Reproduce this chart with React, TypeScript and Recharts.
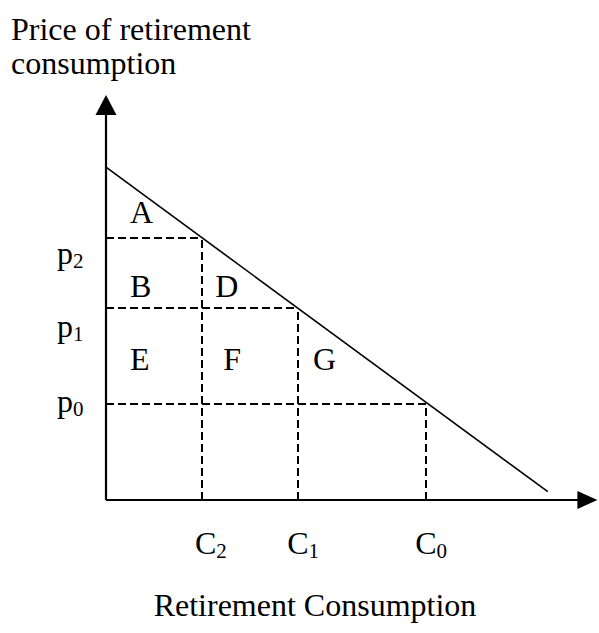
import { LineChart, Line, XAxis, YAxis, ReferenceLine, ReferenceDot, Customized } from "recharts";

// consumption levels C2, C1, C0 and matching prices p2, p1, p0
const quantities = [3, 6, 10];
const prices = [8.2, 6, 3];
const subscripts = ["2", "1", "0"];

// demand curve end points
const demandQ = [0, 13.8];
const demandP = [10.4, 0.26];

const areaNames = ["A", "B", "D", "E", "F", "G"];

const demand = demandQ.map((q, i) => ({ q, p: demandP[i] }));

// where the annotations sit (baseline, data units)
const areaSpots = [
    { x: 0.75, y: 8.66 },
    { x: 0.75, y: 6.34 },
    { x: 3.41, y: 6.34 },
    { x: 0.75, y: 4.06 },
    { x: 3.66, y: 4.06 },
    { x: 6.47, y: 4.06 },
];
const priceSpots = [7.38, 5.09, 2.75];
const qtySpots = [2.78, 5.66, 9.66];

const FONT = "'Liberation Serif', 'Times New Roman', serif";
const dash = "8 4";

export default function App() {
    return (
        <div style={{ position: "absolute", left: 0, top: 0 }}>
            <LineChart width={599} height={633} data={demand}
                margin={{ top: 84, right: 0, left: 106, bottom: 133 }}>
                <XAxis type="number" dataKey="q" domain={[0, 15.4]} hide />
                <YAxis type="number" dataKey="p" domain={[0, 13]} hide />

                {quantities.map((q, i) => (
                    <ReferenceLine key={"h" + i} segment={[{ x: 0, y: prices[i] }, { x: q, y: prices[i] }]}
                        stroke="#000" strokeWidth={2} strokeDasharray={dash} shapeRendering="crispEdges" />
                ))}
                {quantities.map((q, i) => (
                    <ReferenceLine key={"v" + i} segment={[{ x: q, y: 0 }, { x: q, y: prices[i] }]}
                        stroke="#000" strokeWidth={2} strokeDasharray={dash} shapeRendering="crispEdges" />
                ))}

                {/* axes with arrow heads */}
                <ReferenceLine segment={[{ x: 0, y: 0 }, { x: 0, y: 12.1 }]} stroke="#000" strokeWidth={2.2} />
                <ReferenceLine segment={[{ x: 0, y: 0 }, { x: 14.8, y: 0 }]} stroke="#000" strokeWidth={2.2} />
                <ReferenceDot x={0} y={12.66} r={1} ifOverflow="visible"
                    shape={(p: any) => (
                        <path d={`M${p.cx},${p.cy} L${p.cx - 10.5},${p.cy + 20} L${p.cx + 10.5},${p.cy + 20} Z`} fill="#000" />
                    )} />
                <ReferenceDot x={15.35} y={0} r={1} ifOverflow="visible"
                    shape={(p: any) => (
                        <path d={`M${p.cx},${p.cy} L${p.cx - 20},${p.cy - 9} L${p.cx - 20},${p.cy + 9} Z`} fill="#000" />
                    )} />

                <Line type="linear" dataKey="p" stroke="#000" strokeWidth={1.6} dot={false} isAnimationActive={false} />

                {areaNames.map((name, i) => (
                    <ReferenceDot key={name} x={areaSpots[i].x} y={areaSpots[i].y} r={1} ifOverflow="visible"
                        shape={(p: any) => (
                            <text x={p.cx} y={p.cy} fontFamily={FONT} fontSize={32} fill="#000">{name}</text>
                        )} />
                ))}
                {subscripts.map((s, i) => (
                    <ReferenceDot key={"p" + s} x={-1.53} y={priceSpots[i]} r={1} ifOverflow="visible"
                        shape={(p: any) => (
                            <text x={p.cx} y={p.cy} fontFamily={FONT} fontSize={32} fill="#000">
                                p<tspan fontSize={21} dy={4}>{s}</tspan>
                            </text>
                        )} />
                ))}
                {subscripts.map((s, i) => (
                    <ReferenceDot key={"c" + s} x={qtySpots[i]} y={-1.69} r={1} ifOverflow="visible"
                        shape={(p: any) => (
                            <text x={p.cx} y={p.cy} fontFamily={FONT} fontSize={32} fill="#000">
                                C<tspan fontSize={21} dy={4}>{s}</tspan>
                            </text>
                        )} />
                ))}

                <Customized component={() => (
                    <g fontFamily={FONT} fontSize={32} fill="#000">
                        <text x={11} y={40}>Price of retirement</text>
                        <text x={11} y={74}>consumption</text>
                        <text x={315} y={616} textAnchor="middle">Retirement Consumption</text>
                    </g>
                )} />
            </LineChart>
        </div>
    );
}
